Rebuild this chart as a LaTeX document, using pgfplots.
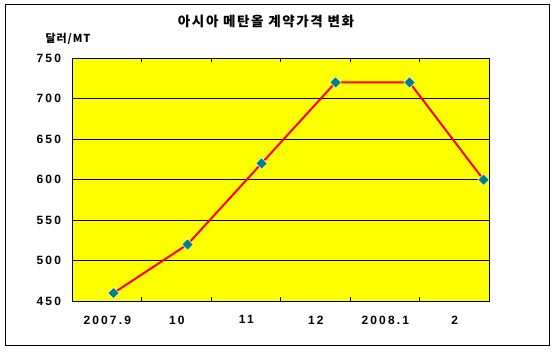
\documentclass[border=0pt]{standalone}
\usepackage{pgfplots}
\pgfplotsset{compat=1.18}
\usepackage{fontspec}
\setmainfont{Liberation Sans}
\newfontfamily\kr{Noto Sans CJK KR}
\definecolor{plotyellow}{RGB}{255,255,0}
\definecolor{mteal}{RGB}{0,128,128}
\begin{document}
\begin{tikzpicture}[x=1pt,y=1pt]
\fill[white] (0,0) rectangle (556,353);
\draw[line width=1.5pt] (5.5,7.5) rectangle (549.5,348.5);
\node[font=\kr\bfseries\fontsize{13.5}{13.5}\selectfont\addfontfeature{LetterSpace=12}] at (266,332) {아시아 메탄올 계약가격 변화};
\node[font=\kr\bfseries\fontsize{11}{11}\selectfont\addfontfeature{LetterSpace=8}] at (68,314) {달러/MT};
\begin{axis}[
  name=main,
  at={(0,0)}, anchor=south west,
  scale only axis, width=417pt, height=243pt,
  xmin=-0.554, xmax=5.081, ymin=450, ymax=750,
  axis background/.style={fill=plotyellow},
  axis line style={line width=1.2pt},
  ytick={450,500,...,750},
  ymajorgrids, grid style={black, line width=0.9pt},
  xtick={-0.0845,0.8547,1.7939,2.7331,3.6723,4.6115},
  xticklabels={2007.9,10,11,12,2008.1,2},
  minor xtick={0.378,1.3172,2.2564,3.1956,4.1348},
  major tick length=0pt, minor tick length=4pt, tick align=inside,
  minor tick style={black, line width=0.8pt},
  /pgf/number format/assume math mode=true,
  ticklabel style={font=\bfseries\fontsize{12}{12}\selectfont\addfontfeature{LetterSpace=18}},
  yticklabel style={xshift=-8pt},
  xticklabel style={yshift=-11pt},
  clip=false,
  shift={(98,64)},
]
\addplot[red, line width=2pt, mark=square*, mark size=4pt,
  mark options={fill=mteal, draw=white, line width=0.5pt, rotate=45}]
  coordinates {(0,460) (1,520) (2,620) (3,720) (4,720) (5,600)};
\end{axis}
\end{tikzpicture}
\end{document}
